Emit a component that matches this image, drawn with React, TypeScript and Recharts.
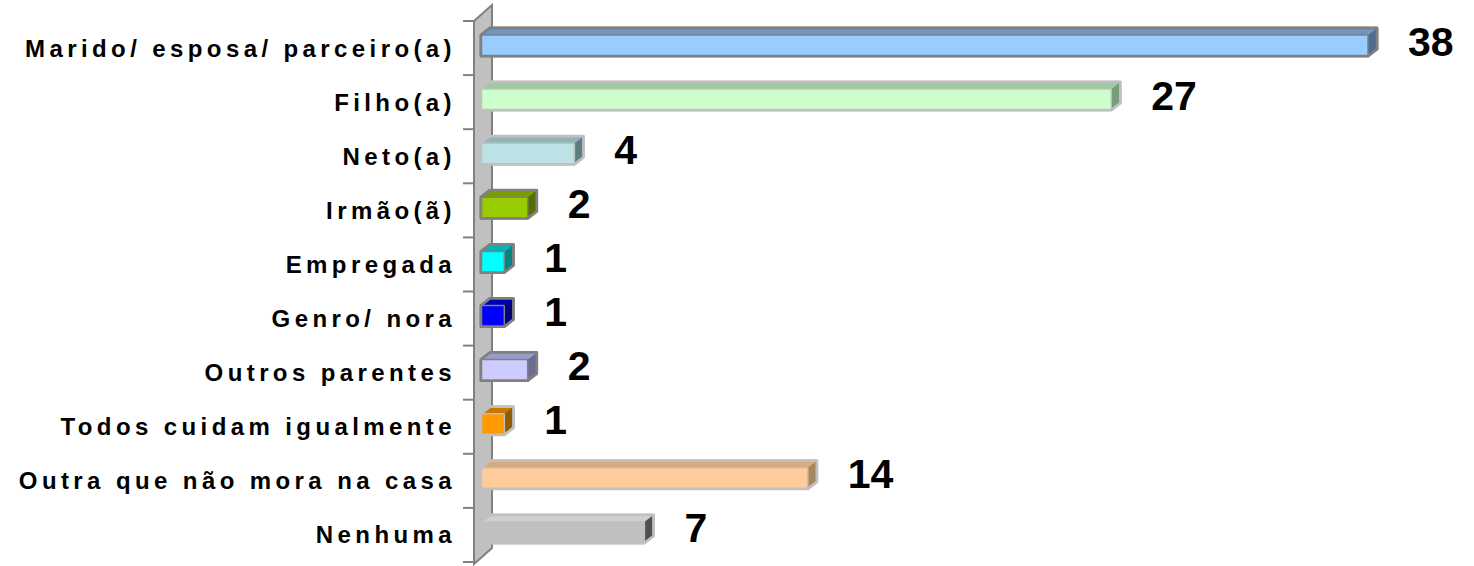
import React from "react";
import { BarChart, Bar, XAxis, YAxis, LabelList } from "recharts";

const categories = [
  "Marido/ esposa/ parceiro(a)",
  "Filho(a)",
  "Neto(a)",
  "Irmão(ã)",
  "Empregada",
  "Genro/ nora",
  "Outros parentes",
  "Todos cuidam igualmente",
  "Outra que não mora na casa",
  "Nenhuma",
];
const values = [38, 27, 4, 2, 1, 1, 2, 1, 14, 7];

// front / top / side / outline colours per bar
const FRONT = ["#99CCFF", "#CCFFCC", "#BCE2E6", "#99CC00", "#00FFFF", "#0000FF", "#CCCCFF", "#FF9900", "#FFCC99", "#C0C0C0"];
const TOP = ["#6C96C4", "#9CCB9C", "#8FB5B9", "#7A9E00", "#00B5B5", "#0000B0", "#9C9CCC", "#C77800", "#D9AA80", "#D0D0D0"];
const SIDE = ["#4F6C8E", "#7A9C7A", "#5E7E81", "#556E00", "#008585", "#00007A", "#6B6B93", "#8F5C00", "#A88660", "#505050"];
const EDGE = ["#808080", "#C0C0C0", "#C0C0C0", "#808080", "#808080", "#808080", "#808080", "#C0C0C0", "#C0C0C0", "#C0C0C0"];

const data = categories.map((name, i) => ({ name, value: values[i] }));

const W = 1474;
const H = 566;
const TOP_M = 21;
const BOTTOM_M = 4;
const AXIS_W = 481;
const RIGHT_M = 106;
const FONT = "Arial, 'Liberation Sans', sans-serif";

const DX = 9;
const DY = 7;

function Bar3D(props: any) {
  const { x, y, width, height, payload } = props;
  let i = props.index;
  if (i == null) i = categories.indexOf(payload?.name);
  const yy = y - 3;
  const w = width;
  const h = height;
  const silhouette = `${x},${yy} ${x + DX},${yy - DY} ${x + w + DX},${yy - DY} ${x + w + DX},${yy + h - DY} ${x + w},${yy + h} ${x},${yy + h}`;
  return (
    <g>
      <polygon points={silhouette} fill={FRONT[i]} stroke={EDGE[i]} strokeWidth={3} strokeLinejoin="round" />
      <polygon
        points={`${x},${yy} ${x + DX},${yy - DY} ${x + w + DX},${yy - DY} ${x + w},${yy}`}
        fill={TOP[i]}
      />
      <polygon
        points={`${x + w},${yy} ${x + w + DX},${yy - DY} ${x + w + DX},${yy + h - DY} ${x + w},${yy + h}`}
        fill={SIDE[i]}
      />
      <rect x={x} y={yy} width={w} height={h} fill={FRONT[i]} />
      <polygon points={silhouette} fill="none" stroke={EDGE[i]} strokeWidth={2.5} strokeLinejoin="round" />
      <line x1={x + w} y1={yy} x2={x + w} y2={yy + h} stroke={EDGE[i]} strokeWidth={1.5} />
      <line x1={x} y1={yy} x2={x + w} y2={yy} stroke={EDGE[i]} strokeWidth={1.5} />
    </g>
  );
}

function CategoryTick(props: any) {
  const { y, payload } = props;
  return (
    <text
      x={456}
      y={y}
      textAnchor="end"
      dominantBaseline="central"
      fontFamily={FONT}
      fontWeight="bold"
      fontSize={24}
      letterSpacing={4.4}
      fill="#000"
    >
      {payload.value}
    </text>
  );
}

function ValueLabel(props: any) {
  const { x, y, width, height, value } = props;
  return (
    <text
      x={x + width + 40}
      y={y + height / 2 - 7}
      dominantBaseline="central"
      fontFamily={FONT}
      fontWeight="bold"
      fontSize={41}
      fill="#000"
    >
      {value}
    </text>
  );
}

function Wall() {
  const band = (H - TOP_M - BOTTOM_M) / categories.length;
  const left = 474;
  const depthX = 18;
  const depthY = 16;
  const top = TOP_M;
  const bottom = H - BOTTOM_M + 2;
  const ticks = Array.from({ length: categories.length + 1 }, (_, k) => TOP_M + k * band);
  return (
    <svg width={W} height={H} style={{ position: "absolute", left: 0, top: 0 }}>
      <polygon
        points={`${left},${top} ${left + depthX},${top - depthY} ${left + depthX},${bottom - depthY} ${left},${bottom}`}
        fill="#C0C0C0"
        stroke="#808080"
        strokeWidth={2}
      />
      {ticks.map((t, k) => (
        <line key={k} x1={463} y1={t} x2={left} y2={t} stroke="#808080" strokeWidth={2} />
      ))}
    </svg>
  );
}

export default function App() {
  return (
    <div style={{ position: "absolute", left: 0, top: 0, width: W, height: H, background: "#fff" }}>
      <Wall />
      <div style={{ position: "absolute", left: 0, top: 0 }}>
        <BarChart
          width={W}
          height={H}
          data={data}
          layout="vertical"
          margin={{ top: TOP_M, right: RIGHT_M, bottom: BOTTOM_M, left: 0 }}
        >
          <XAxis type="number" domain={[0, 38]} hide />
          <YAxis
            type="category"
            dataKey="name"
            width={AXIS_W}
            axisLine={false}
            tickLine={false}
            tick={<CategoryTick />}
            interval={0}
          />
          <Bar dataKey="value" barSize={21} shape={<Bar3D />} isAnimationActive={false}>
            <LabelList dataKey="value" content={<ValueLabel />} />
          </Bar>
        </BarChart>
      </div>
    </div>
  );
}
